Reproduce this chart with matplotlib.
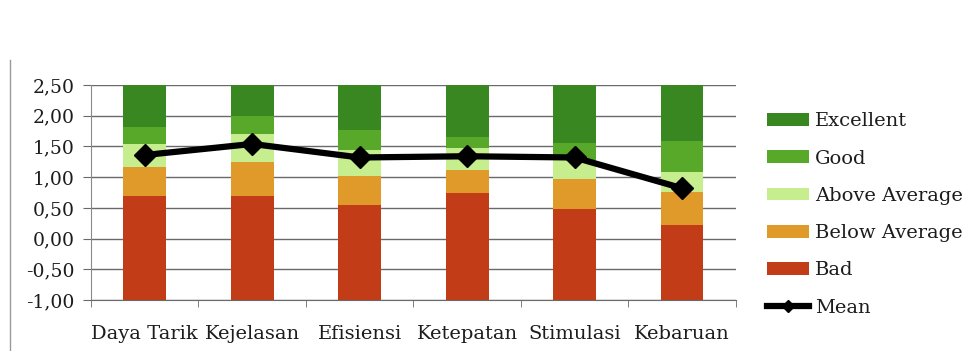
import matplotlib
matplotlib.use("Agg")
import matplotlib.pyplot as plt
import numpy as np
from matplotlib.patches import Patch
from matplotlib.lines import Line2D

categories = ["Daya Tarik", "Kejelasan", "Efisiensi", "Ketepatan", "Stimulasi", "Kebaruan"]
bad = [1.69, 1.69, 1.55, 1.75, 1.48, 1.22]
below_average = [0.47, 0.55, 0.47, 0.37, 0.49, 0.54]
above_average = [0.38, 0.47, 0.42, 0.35, 0.31, 0.33]
good = [0.27, 0.29, 0.33, 0.19, 0.27, 0.50]
excellent = [0.69, 0.50, 0.73, 0.84, 0.95, 0.91]
mean = [1.36, 1.54, 1.32, 1.34, 1.32, 0.82]
yticks = [-1.0, -0.5, 0.0, 0.5, 1.0, 1.5, 2.0, 2.5]
base = -1.0

series = [("Bad", bad, "#c23c17"),
          ("Below Average", below_average, "#e09a2a"),
          ("Above Average", above_average, "#c6ee8e"),
          ("Good", good, "#58a82a"),
          ("Excellent", excellent, "#388720")]

txt = "#1c1c1c"
plt.rcParams['font.family'] = ['DejaVu Serif']
fig = plt.figure(figsize=(9.71, 3.51), dpi=100)
ax = fig.add_axes([0.0937, 0.145, 0.664, 0.613])

x = np.arange(len(categories))
bottom = np.full(len(categories), base)
handles = {}
for name, vals, col in series:
    vals = np.array(vals)
    ax.bar(x, vals, 0.4, bottom=bottom, color=col, zorder=2)
    handles[name] = Patch(facecolor=col)
    bottom = bottom + vals

ax.plot(x, mean, color="black", lw=4.5, marker="D", ms=11, zorder=4)

ax.set_xlim(-0.5, len(categories) - 0.5)
ax.set_ylim(-1.0, 2.5)
ax.set_yticks(yticks)
ax.set_yticklabels([f"{v:.2f}".replace(".", ",") for v in yticks], fontsize=13.5, color=txt)
ax.yaxis.grid(True, color="#6a6a6a", lw=1, zorder=1)
ax.set_axisbelow(True)
ax.set_xticks(x)
ax.set_xticklabels(categories, fontsize=14, color=txt)
ax.set_xticks(np.arange(len(categories) + 1) - 0.5, minor=True)
ax.tick_params(axis="x", which="major", length=0, pad=18)
ax.tick_params(axis="x", which="minor", length=5, color="#6a6a6a", direction="out")
ax.tick_params(axis="y", length=6, color="#6a6a6a", pad=6)
for s in ["top", "right"]:
    ax.spines[s].set_visible(False)
ax.spines["left"].set_color("#8a8a8a")
ax.spines["bottom"].set_color("#6a6a6a")

order = ["Excellent", "Good", "Above Average", "Below Average", "Bad"]
hl = [handles[n] for n in order] + [Line2D([], [], color="black", lw=4.5, marker="D", ms=6)]
labels = order + ["Mean"]
leg = fig.legend(hl, labels, loc="upper left", bbox_to_anchor=(0.790, 0.68), frameon=False,
                 fontsize=14, handlelength=2.15, handleheight=0.65, labelspacing=0.99,
                 handletextpad=0.3, borderaxespad=0, borderpad=0)
for t in leg.get_texts():
    t.set_color(txt)

fig.add_artist(Line2D([0.0105, 0.0105], [0.0, 0.83], transform=fig.transFigure,
                      color="#9a9a9a", lw=1))

fig.savefig("out.png", dpi=100, facecolor="white")
